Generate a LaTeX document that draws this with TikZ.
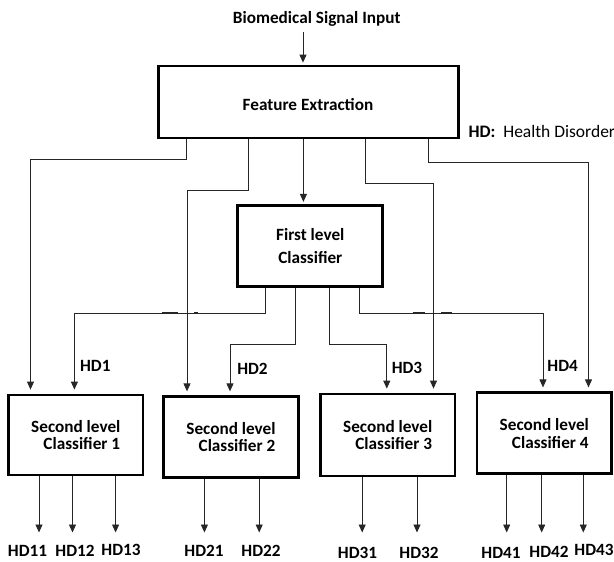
\documentclass[tikz,border=0pt]{standalone}
\usepackage{fontspec}
\setmainfont{Carlito}
\usetikzlibrary{arrows.meta}
\colorlet{linecol}{black!85}
\begin{document}
\begin{tikzpicture}[x=1pt,y=-1pt,
  lbl/.style={font=\fontsize{17.2}{19}\selectfont\bfseries, inner sep=0pt},
  box/.style={draw, line width=2.8pt, inner sep=0pt, align=center, font=\fontsize{17.2}{17.5}\selectfont\bfseries},
  conn/.style={line width=0.9pt, draw=linecol},
  arr/.style={conn, -{Triangle[length=8pt,width=7pt]}},
  inarr/.style={arr, shorten >=4pt},
  jump/.style={line width=1.7pt, draw=linecol}]
\useasboundingbox (0,0) rectangle (614,562);
% top
\node[lbl] (title) at (316.7,18.5) {Biomedical Signal Input};
\node[box, minimum width=300pt, minimum height=72pt] (fe) at (308.8,102) {};
\node[lbl] (fetext) at (308,105) {Feature Extrac\kern0pt tion};
\node[anchor=west, inner sep=0pt, font=\fontsize{17.5}{19}\selectfont] (legend) at (468.3,131.7) {\textbf{HD:}\hspace{4pt} Health Disorder};
\draw[arr, shorten >=2pt] (303,0 |- title.south) ++(0,6) -- (303,0 |- fe.north);
% first level
\node[box, minimum width=145pt, minimum height=81pt, font=\fontsize{17.2}{22.7}\selectfont\bfseries] (flc) at (310.3,245.8) {First level\\Classifier};
% second level
\node[box, minimum width=134.5pt, minimum height=80pt] (b1) at (75.8,435) {Second level\\\hspace*{12pt}Classifier 1};
\node[box, minimum width=134.5pt, minimum height=80.5pt] (b2) at (231,437) {Second level\\\hspace*{12pt}Classifier 2};
\node[box, minimum width=134.5pt, minimum height=82pt] (b3) at (387.7,435) {Second level\\\hspace*{12pt}Classifier 3};
\node[box, minimum width=134.5pt, minimum height=81pt] (b4) at (544.3,433.3) {Second level\\\hspace*{12pt}Classifier 4};
% connectors FE -> second level
\draw[inarr] (186,0 |- fe.south) -- (186,159.3) -- (30.5,159.3) -- (30.5,0 |- b1.north);
\draw[inarr] (248,0 |- fe.south) -- (248,190) -- (187,190) -- (187,0 |- b2.north);
\draw[arr, shorten >=2pt] (303.4,0 |- fe.south) -- (303.4,0 |- flc.north);
\draw[inarr] (365,0 |- fe.south) -- (365,183) -- (433.5,183) -- (433.5,0 |- b3.north);
\draw[inarr] (428,0 |- fe.south) -- (428,162.3) -- (588.5,162.3) -- (588.5,0 |- b4.north);
% connectors FLC -> second level
\draw[inarr] (265,0 |- flc.south) -- (265,313.3) -- (74.4,313.3) -- (74.4,0 |- b1.north);
\draw[inarr] (295.6,0 |- flc.south) -- (295.6,344) -- (230,344) -- (230,0 |- b2.north);
\draw[inarr] (329,0 |- flc.south) -- (329,344) -- (386.8,344) -- (386.8,0 |- b3.north);
\draw[inarr] (359,0 |- flc.south) -- (359,313.3) -- (543,313.3) -- (543,0 |- b4.north);
% line-jump marks
\draw[jump] (161.7,313.3) -- (178,313.3);
\draw[jump] (193.5,313.3) -- (198.3,313.3);
\draw[jump] (412.7,313.3) -- (425,313.3);
\draw[jump] (441,313.3) -- (451.7,313.3);
% HD labels
\node[lbl] (hd1) at (95.3,365.5) {HD1};
\node[lbl] (hd2) at (252.5,369) {HD2};
\node[lbl] (hd3) at (407,368) {HD3};
\node[lbl] (hd4) at (562.6,365.7) {HD4};
% outputs
\node[lbl] (hd11) at (27.5,551) {HD11};
\node[lbl] (hd12) at (75,551) {HD12};
\node[lbl] (hd13) at (121,550) {HD13};
\node[lbl] (hd21) at (204,550.8) {HD21};
\node[lbl] (hd22) at (261,550.8) {HD22};
\node[lbl] (hd31) at (357.5,552.5) {HD31};
\node[lbl] (hd32) at (419,553) {HD32};
\node[lbl] (hd41) at (501,553) {HD41};
\node[lbl] (hd42) at (549,552) {HD42};
\node[lbl] (hd43) at (594,550) {HD43};
\draw[arr] (39,0 |- b1.south) -- (39,532.5);
\draw[arr] (72.5,0 |- b1.south) -- (72.5,532.5);
\draw[arr] (115.6,0 |- b1.south) -- (115.6,532.5);
\draw[arr] (204.4,0 |- b2.south) -- (204.4,532.5);
\draw[arr] (259.2,0 |- b2.south) -- (259.2,532.5);
\draw[arr] (362.2,0 |- b3.south) -- (362.2,532.5);
\draw[arr] (417,0 |- b3.south) -- (417,532.5);
\draw[arr] (506.7,0 |- b4.south) -- (506.7,532.5);
\draw[arr] (541.7,0 |- b4.south) -- (541.7,532.5);
\draw[arr] (583.3,0 |- b4.south) -- (583.3,532.5);
\end{tikzpicture}
\end{document}
